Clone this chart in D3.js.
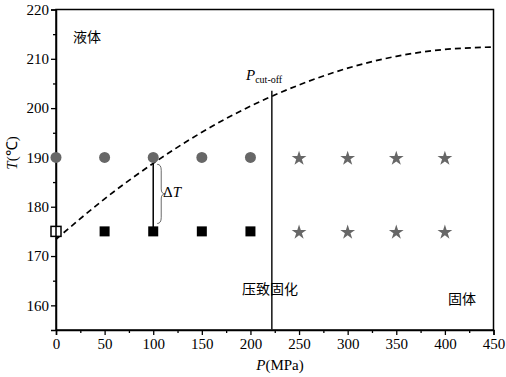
<!DOCTYPE html>
<html>
<head>
<meta charset="utf-8">
<script src="https://d3js.org/d3.v7.min.js"></script>
<style>
  body { margin: 0; background: #fff; }
  text { font-family: "Liberation Serif", "Times New Roman", serif; }
  .cjk { font-family: "Noto Sans CJK SC", sans-serif; }
</style>
</head>
<body>
<svg id="chart" width="506" height="377"></svg>
<script>
// data
const circleP = [0, 50, 100, 150, 200];       // liquid, T = 190
const circleT = 190;
const squareP = [0, 50, 100, 150, 200];       // T = 175
const squareT = 175;
const starP = [250, 300, 350, 400];           // solid, T = 190 and 175
const starT = [190, 175];
const boundary = [[0,173.4],[50,181.6],[100,188.8],[150,195.1],[200,200.4],[250,204.7],[300,208.1],[350,210.5],[400,211.9],[450,212.4]];
const cutoffP = 222;
const cutoffTop = 203.5;
const xTicks = [0, 50, 100, 150, 200, 250, 300, 350, 400, 450];
const yTicks = [160, 170, 180, 190, 200, 210, 220];

const svg = d3.select('#chart');
const m = {left: 56, right: 493.5, top: 9.5, bottom: 330};
const serif = '"Liberation Serif", "Times New Roman", serif';

const x = d3.scaleLinear().domain([0, 450]).range([m.left, m.right]);
const y = d3.scaleLinear().domain([155, 220]).range([m.bottom, m.top]);

// box
svg.append('rect')
   .attr('x', m.left).attr('y', m.top)
   .attr('width', m.right - m.left).attr('height', m.bottom - m.top)
   .attr('fill', 'none').attr('stroke', '#000').attr('stroke-width', 1.5);

// axes, major + minor ticks outward
svg.append('g').attr('transform', `translate(0,${m.bottom})`)
   .call(d3.axisBottom(x).tickValues(xTicks).tickSize(5).tickPadding(3).tickFormat(d3.format('d')));
svg.append('g').attr('transform', `translate(0,${m.bottom})`)
   .call(d3.axisBottom(x).tickValues(d3.range(25, 450, 50)).tickSize(3).tickFormat(''))
   .call(g => g.select('.domain').remove());
svg.append('g').attr('transform', `translate(${m.left},0)`)
   .call(d3.axisLeft(y).tickValues(yTicks).tickSize(5).tickPadding(2).tickFormat(d3.format('d')));
svg.append('g').attr('transform', `translate(${m.left},0)`)
   .call(d3.axisLeft(y).tickValues(d3.range(165, 220, 10)).tickSize(3).tickFormat(''))
   .call(g => g.select('.domain').remove());

svg.selectAll('g').attr('font-family', serif).attr('font-size', 15);
svg.selectAll('.tick line').attr('stroke', '#000').attr('stroke-width', 1.3);
svg.selectAll('.domain').attr('stroke', '#000').attr('stroke-width', 1.5);
svg.selectAll('.tick text').attr('fill', '#000');

// dashed boundary curve
svg.append('path')
   .datum(boundary)
   .attr('d', d3.line().x(d => x(d[0])).y(d => y(d[1])).curve(d3.curveNatural))
   .attr('fill', 'none').attr('stroke', '#000').attr('stroke-width', 1.7)
   .attr('stroke-dasharray', '6,4');

// cut-off line
svg.append('line')
   .attr('x1', x(cutoffP)).attr('x2', x(cutoffP))
   .attr('y1', y(155)).attr('y2', y(cutoffTop))
   .attr('stroke', '#222').attr('stroke-width', 1.6);

// Delta T line
svg.append('line')
   .attr('x1', x(100)).attr('x2', x(100))
   .attr('y1', y(188.8)).attr('y2', y(squareT))
   .attr('stroke', '#000').attr('stroke-width', 1.5);

// brace
const bx = x(100) + 4, by1 = y(188.6), by2 = y(176.6), bm = (by1 + by2) / 2;
svg.append('path')
   .attr('d', `M${bx},${by1} Q${bx+4},${by1} ${bx+4},${by1+6} L${bx+4},${bm-5} Q${bx+4},${bm} ${bx+8},${bm}
               Q${bx+4},${bm} ${bx+4},${bm+5} L${bx+4},${by2-6} Q${bx+4},${by2} ${bx},${by2}`)
   .attr('fill', 'none').attr('stroke', '#444').attr('stroke-width', 0.8);

// markers
svg.selectAll('.circ').data(circleP).join('circle')
   .attr('cx', d => x(d)).attr('cy', y(circleT)).attr('r', 5.5)
   .attr('fill', '#676767');

svg.selectAll('.sq').data(squareP).join('rect')
   .attr('x', d => x(d) - 5).attr('y', y(squareT) - 5)
   .attr('width', 10).attr('height', 10)
   .attr('fill', d => d === 0 ? '#fff' : '#000')
   .attr('stroke', '#000').attr('stroke-width', d => d === 0 ? 1.5 : 0);
svg.append('line').attr('x1', x(0)).attr('x2', x(0))
   .attr('y1', y(squareT) - 5).attr('y2', y(squareT) + 5)
   .attr('stroke', '#000').attr('stroke-width', 1.5);

const star = d3.symbol().type(d3.symbolStar).size(68);
starT.forEach(t => {
  svg.append('g').selectAll('path').data(starP).join('path')
     .attr('d', star)
     .attr('transform', d => `translate(${x(d)},${y(t) + 1})`)
     .attr('fill', '#676767');
});

// labels
svg.append('text').attr('class', 'cjk').attr('x', 73).attr('y', 42)
   .style('font-size', '14px').text('液体');
svg.append('text').attr('class', 'cjk').attr('x', 242).attr('y', 294)
   .style('font-size', '14px').text('压致固化');
svg.append('text').attr('class', 'cjk').attr('x', 448).attr('y', 304)
   .style('font-size', '14px').text('固体');

const pc = svg.append('text').attr('x', 246).attr('y', 80).style('font-size', '15px');
pc.append('tspan').style('font-style', 'italic').text('P');
pc.append('tspan').attr('dy', 3).style('font-size', '10px').text('cut-off');

const dt = svg.append('text').attr('x', 163).attr('y', 197).style('font-size', '15px');
dt.append('tspan').text('Δ');
dt.append('tspan').style('font-style', 'italic').text('T');

const xl = svg.append('text').attr('x', 280).attr('y', 370).attr('text-anchor', 'middle').style('font-size', '15px');
xl.append('tspan').style('font-style', 'italic').text('P');
xl.append('tspan').text('(MPa)');

const yl = svg.append('text').attr('transform', 'translate(17,153) rotate(-90)')
   .attr('text-anchor', 'middle').style('font-size', '15px');
yl.append('tspan').style('font-style', 'italic').text('T');
yl.append('tspan').text('(℃)');
</script>
</body>
</html>
